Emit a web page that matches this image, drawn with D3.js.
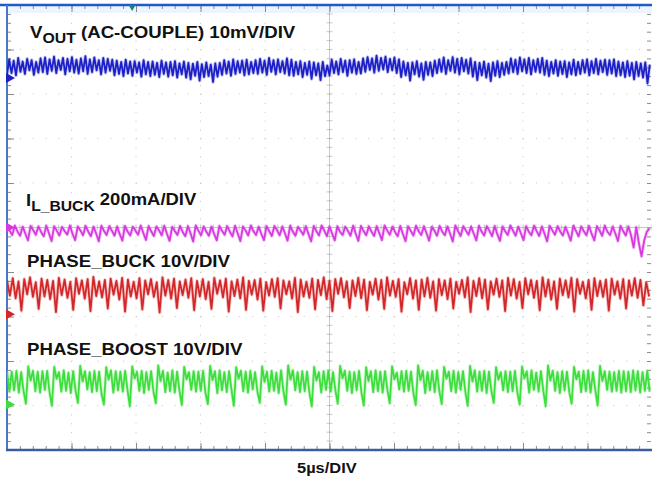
<!DOCTYPE html>
<html>
<head>
<meta charset="utf-8">
<script src="https://cdn.jsdelivr.net/npm/d3@7"></script>
<style>
	body { margin: 0; background: #fff; }
	svg { display: block; }
	text { font-family: Arial, "Liberation Sans", sans-serif; font-weight: bold; fill: #111; }
</style>
</head>
<body>
<svg id="scope" width="652" height="480"></svg>
<script>
// scope settings
var usPerDiv = 5;
var divsX = 10;
var divsY = 10;
var triggerUs = 9.7;

// VOUT, AC coupled, mV above its ground marker
var voutMv = [
	0.8,4.2,1.1,3.9,0.6,4.5,1.4,3.7,0.9,4.3,1.7,4.0,0.7,3.6,1.2,4.4,
	1.3,4.6,0.9,4.2,1.6,4.8,1.1,4.0,1.8,4.5,0.8,4.3,1.5,4.7,1.2,4.1,
	1.0,4.4,1.5,4.9,0.9,4.2,1.3,4.6,1.7,4.0,0.8,4.5,1.2,4.3,1.6,4.1,
	0.6,3.9,0.9,3.6,0.4,4.1,1.0,3.7,0.5,3.8,1.2,3.5,0.3,4.0,0.8,3.6,
	0.4,3.7,0.7,3.4,0.2,3.9,0.9,3.5,0.3,3.6,0.6,3.8,0.1,3.3,0.8,3.7,
	0.1,3.4,-0.3,3.2,0.5,3.6,-0.6,3.1,0.2,3.5,0.4,3.0,-0.9,3.3,0.3,3.4,
	0.7,4.0,1.0,3.7,0.5,4.2,0.9,3.8,1.2,3.9,0.6,4.1,0.8,3.6,1.1,4.0,
	0.9,4.3,1.2,3.9,0.7,4.5,1.4,4.0,0.8,4.2,1.3,3.8,1.0,4.4,0.6,4.1,
	0.5,3.6,0.8,3.8,0.2,3.4,0.7,3.7,-0.2,3.5,0.6,3.3,-0.5,3.6,0.4,2.8,
	0.6,4.1,1.1,3.7,0.8,4.3,1.3,3.9,0.5,4.0,1.2,4.2,0.9,3.6,1.0,4.4,
	1.4,4.7,1.8,4.4,1.2,5.0,1.6,4.5,1.9,4.8,1.3,4.3,1.7,4.6,1.1,4.2,
	0.2,3.7,0.6,3.4,-0.6,3.5,0.8,3.8,0.3,3.3,-0.4,3.6,0.7,3.5,0.4,3.9,
	1.1,4.2,1.4,4.6,0.9,4.0,1.6,4.7,1.2,4.3,0.8,4.5,1.5,4.1,1.0,4.4,
	0.3,3.6,-0.5,3.4,0.6,3.7,0.1,3.2,-0.7,3.5,0.5,3.8,0.2,3.4,0.7,3.6,
	1.0,4.4,1.3,4.1,0.9,4.6,1.5,4.2,1.1,4.5,0.8,4.0,1.4,4.3,1.2,4.5,
	0.7,3.9,0.4,3.6,1.0,4.0,0.5,3.7,0.9,3.8,0.2,3.5,0.8,4.1,0.6,3.6,
	0.9,4.0,1.2,4.2,0.6,3.8,1.1,4.3,0.8,3.9,1.3,4.1,0.7,4.0,1.0,4.2,
	0.4,3.7,0.6,3.5,0.2,3.8,0.5,3.4,-0.3,3.6,0.4,3.3,0.1,3.5,-1.2,3.0
];

// IL_BUCK, mA
var ilBuckMa = [
	6,-14,-34, 9,-18,-37, 4,-28,-58, 7,-12,-33, 5,-20,-40, 8,-26,-61, 6,-15,-36, 3,-17,-32,
	9,-29,-57, 5,-13,-35, 7,-19,-39, 4,-27,-62, 8,-16,-34, 6,-14,-37, 5,-30,-59, 7,-18,-36,
	4,-15,-33, 9,-25,-56, 6,-17,-38, 5,-13,-35, 8,-28,-60, 3,-16,-34, 7,-20,-39, 6,-26,-63,
	9,-14,-35, 5,-18,-37, 4,-29,-58, 7,-15,-33, 6,-19,-40, 8,-27,-61, 5,-14,-36, 9,-17,-34,
	4,-28,-57, 6,-16,-38, 7,-13,-35, 5,-26,-59, 8,-18,-37, 3,-15,-33, 6,-30,-62, 7,-17,-36,
	9,-14,-39, 5,-27,-58, 6,-19,-34, 4,-15,-37, 8,-28,-60, 7,-16,-35, 5,-18,-38, 6,-25,-57,
	9,-13,-33, 4,-20,-40, 7,-29,-61, 5,-15,-36, 8,-17,-34, 6,-26,-59, 3,-14,-37, 7,-19,-35,
	5,-28,-63, 9,-16,-38, 6,-13,-33, 4,-27,-58, 8,-18,-36, 6,-15,-39, 7,-30,-60, 5,-17,-34,
	9,-14,-37, 4,-26,-57, 6,-19,-35, 8,-16,-38, 5,-28,-62, 7,-13,-33, 6,-18,-36, 3,-27,-59,
	8,-15,-40, 5,-17,-35, 7,-29,-58, 6,-14,-37, 9,-19,-34, 4,-26,-61, 7,-16,-36, 5,-35,-90,
	2,-70,-130, -60,-20,-5
];

// PHASE_BUCK, V
var phaseBuckV = [
	7.6,4.2,8.1,3.6,7.4,0.8,7.9,4.5,8.3,3.9,7.2,1.2,8.0,4.0,7.7,3.4,
	7.5,0.5,8.2,4.3,7.8,3.7,7.3,1.0,8.1,4.6,7.6,3.5,7.9,0.7,8.4,4.1,
	7.4,3.8,7.7,1.3,8.0,4.4,7.5,3.3,8.2,0.6,7.8,4.0,7.3,3.6,8.1,1.1,
	7.6,4.5,7.9,3.9,7.2,0.4,8.3,4.2,7.7,3.5,8.0,1.4,7.4,4.3,7.8,3.7,
	8.1,0.9,7.5,4.0,7.9,3.4,7.3,1.2,8.2,4.6,7.6,3.8,8.0,0.6,7.4,4.1,
	7.8,3.6,8.3,1.0,7.5,4.4,7.7,3.3,8.0,0.8,7.2,4.2,7.9,3.9,8.1,1.3,
	7.6,4.5,7.4,3.5,8.2,0.5,7.8,4.0,7.3,3.7,8.0,1.1,7.7,4.3,8.3,3.4,
	7.5,0.7,7.9,4.6,8.1,3.8,7.4,1.4,7.6,4.1,8.2,3.6,7.8,0.9,7.3,4.4,
	8.0,3.3,7.7,1.2,8.3,4.2,7.5,3.9,7.9,0.6,7.2,4.5,8.1,3.5,7.6,1.0,
	7.8,4.0,8.2,3.7,7.4,0.8,7.9,4.3,7.6,3.4,8.0,1.3,7.3,4.6,7.7,3.8,
	8.3,0.5,7.5,4.1,8.1,3.6,7.8,1.1,7.4,4.4,8.0,3.9,7.6,0.7,8.2,4.2,
	7.9,3.5,7.3,1.4,8.1,4.5,7.7,3.7,7.5,0.9,8.3,4.0,7.8,3.3,7.4,1.2,
	8.0,4.3,7.6,3.8,8.2,0.6,7.9,4.6,7.3,3.6,7.7,1.0,8.1,4.1,7.5,3.9,
	7.8,0.8,8.0,4.4,7.4,3.5,7.9,1.3,7.6,4.2,8.1,3.7,7.7,2.0,7.2,4.0
];

// PHASE_BOOST, V
var phaseBoostV = [
	7.5,2.9,7.4,3.2,7.6,2.7,7.3,3.1,
	0.2,8.6,5.4,7.6,3.0,7.4,2.7,7.5,3.3,7.6,2.8,
	-0.3,8.5,5.8,7.3,2.9,7.7,3.1,7.2,2.6,7.5,3.2,
	0.4,8.7,5.2,7.5,3.4,7.3,2.8,7.6,3.0,7.4,2.5,
	0.0,8.4,5.6,7.7,2.7,7.5,3.2,7.4,2.9,7.6,3.3,
	-0.4,8.6,5.9,7.4,3.1,7.6,2.6,7.3,3.3,7.5,2.9,
	0.3,8.8,5.3,7.6,2.8,7.2,3.0,7.7,2.7,7.4,3.1,
	-0.1,8.5,5.7,7.3,3.3,7.5,2.9,7.4,3.1,7.6,2.6,
	0.1,8.7,5.5,7.5,2.6,7.7,3.2,7.3,2.8,7.5,3.4,
	-0.3,8.4,5.8,7.6,3.0,7.4,2.7,7.6,3.4,7.3,2.9,
	0.4,8.6,5.1,7.4,2.9,7.6,3.1,7.2,2.6,7.7,3.0,
	0.0,8.8,5.6,7.7,3.2,7.3,2.8,7.5,3.0,7.4,2.7,
	-0.4,8.5,5.4,7.3,2.7,7.5,3.3,7.6,2.9,7.3,3.2,
	0.2,8.7,5.9,7.6,3.1,7.4,2.6,7.3,3.2,7.6,2.8,
	-0.2,8.4,5.3,7.5,2.8,7.7,3.0,7.4,2.7,7.5,3.3,
	0.3,8.6,5.7,7.2,3.4,7.5,2.9,7.6,3.1,7.4,2.6,
	-0.1,8.8,5.5,7.6,2.6,7.3,3.2,7.5,2.8,7.7,3.0,
	0.1,8.5,5.8,7.4,3.0,7.6,2.7,7.3,3.3,7.5,2.9,
	-0.3,8.7,5.2,7.7,2.9,7.4,3.1,7.6,2.6,7.4,3.2,
	0.4,8.4,5.6,7.3,3.2,7.5,2.8,7.4,3.0,7.6,2.7,
	0.0,8.6,5.9,7.5,2.7,7.7,3.3,7.2,2.9,7.5,3.1,
	-0.4,8.8,5.4,7.6,3.1,7.3,2.6,7.5,3.2,7.4,2.8,
	0.2,8.5,5.7,7.4,2.8,7.6,3.0,7.7,2.7,7.3,3.3,
	-0.2,8.7,5.3,7.5,3.3,7.4,2.9,7.3,3.1,7.6,2.7,
	7.5,3.0,7.4,2.8,7.7,3.2,7.5,2.7,7.3,3.1,7.6,2.9
];

var svg = d3.select("#scope");
var x = d3.scaleLinear().domain([0, usPerDiv * divsX]).range([7, 652]);
var y = d3.scaleLinear().domain([0, divsY]).range([450, 5]);

// light band under top border
svg.append("rect").attr("x", 7).attr("y", 5).attr("width", 645).attr("height", 8).attr("fill", "#eef4ff");

// dotted graticule
var gridG = svg.append("g").attr("stroke", "#c6c6c6").attr("stroke-width", 1);
d3.range(1, divsX).forEach(function (k) {
	gridG.append("line")
		.attr("x1", x(k * usPerDiv)).attr("x2", x(k * usPerDiv))
		.attr("y1", y(divsY)).attr("y2", y(0))
		.attr("stroke-dasharray", "1," + ((y(0) - y(divsY)) / 50 - 1));
});
d3.range(1, divsY).forEach(function (k) {
	gridG.append("line")
		.attr("x1", x(0)).attr("x2", x(usPerDiv * divsX))
		.attr("y1", y(k)).attr("y2", y(k))
		.attr("stroke-dasharray", "1," + ((x(usPerDiv) - x(0)) / 5 - 1));
});

// centre cross with minor ticks
var minorX = d3.range(0, usPerDiv * divsX + 0.01, usPerDiv / 5);
var minorY = d3.range(0, divsY + 0.01, 0.2);
var cx = x(usPerDiv * divsX / 2), cy = y(divsY / 2);
var crossG = svg.append("g").attr("stroke", "#b0b0b0").attr("stroke-width", 0.7);
crossG.append("line").attr("x1", cx).attr("x2", cx).attr("y1", y(divsY)).attr("y2", y(0));
crossG.append("line").attr("x1", x(0)).attr("x2", x(usPerDiv * divsX)).attr("y1", cy).attr("y2", cy);
minorY.forEach(function (v) {
	crossG.append("line").attr("x1", cx - 3).attr("x2", cx + 3).attr("y1", y(v)).attr("y2", y(v));
});
minorX.forEach(function (v) {
	crossG.append("line").attr("x1", x(v)).attr("x2", x(v)).attr("y1", cy - 3).attr("y2", cy + 3);
});

// border ticks through d3 axes
function tickAxis (axis, tx, ty) {
	var g = svg.append("g").attr("transform", "translate(" + tx + "," + ty + ")").call(axis);
	g.select(".domain").remove();
	g.selectAll("line").attr("stroke", "#8a8a8a");
}
var majorX = d3.range(0, usPerDiv * divsX + 0.01, usPerDiv);
var majorY = d3.range(0, divsY + 0.01, 1);
tickAxis(d3.axisBottom(x).tickValues(minorX).tickSize(4).tickFormat(""), 0, y(divsY));
tickAxis(d3.axisBottom(x).tickValues(majorX).tickSize(7).tickFormat(""), 0, y(divsY));
tickAxis(d3.axisTop(x).tickValues(minorX).tickSize(4).tickFormat(""), 0, y(0));
tickAxis(d3.axisTop(x).tickValues(majorX).tickSize(7).tickFormat(""), 0, y(0));
tickAxis(d3.axisRight(y).tickValues(minorY).tickSize(4).tickFormat(""), x(0), 0);
tickAxis(d3.axisRight(y).tickValues(majorY).tickSize(7).tickFormat(""), x(0), 0);
tickAxis(d3.axisLeft(y).tickValues(minorY).tickSize(4).tickFormat(""), 651, 0);

// borders
svg.append("line").attr("x1", 0).attr("x2", 652).attr("y1", y(divsY)).attr("y2", y(divsY))
	.attr("stroke", "#1b5cc9").attr("stroke-width", 2.5);
svg.append("line").attr("x1", x(0)).attr("x2", x(0)).attr("y1", y(divsY)).attr("y2", y(0))
	.attr("stroke", "#4a78c8").attr("stroke-width", 2);
svg.append("line").attr("x1", x(0) - 1).attr("x2", 652).attr("y1", y(0)).attr("y2", y(0))
	.attr("stroke", "#3a5c9c").attr("stroke-width", 2.5);

// traces
var traces = [
	{ values: voutMv, ref: 8.36, perDiv: 10, color: "#1d20c6" },
	{ values: ilBuckMa, ref: 5.0, perDiv: 200, color: "#d63ae0" },
	{ values: phaseBuckV, ref: 3.05, perDiv: 10, color: "#d3282a" },
	{ values: phaseBoostV, ref: 1.02, perDiv: 10, color: "#3ede3e" }
];

svg.append("clipPath").attr("id", "plotClip").append("rect")
	.attr("x", x(0)).attr("y", y(divsY)).attr("width", 652 - x(0)).attr("height", y(0) - y(divsY));
var traceG = svg.append("g").attr("clip-path", "url(#plotClip)");

traces.forEach(function (t) {
	var step = usPerDiv * divsX / t.values.length;
	var line = d3.line()
		.x(function (d, i) { return x(i * step); })
		.y(function (d) { return y(t.ref + d / t.perDiv); });
	traceG.append("path").attr("d", line(t.values)).attr("fill", "none")
		.attr("stroke", t.color).attr("stroke-width", 3.6).attr("stroke-opacity", 0.25)
		.attr("stroke-linejoin", "round");
	traceG.append("path").attr("d", line(t.values)).attr("fill", "none")
		.attr("stroke", t.color).attr("stroke-width", 1.8)
		.attr("stroke-linejoin", "round");
	// ground marker on the left edge
	var my = y(t.ref);
	svg.append("path")
		.attr("d", "M" + (x(0) - 1) + "," + (my - 5) + "L" + (x(0) + 8) + "," + my + "L" + (x(0) - 1) + "," + (my + 5) + "Z")
		.attr("fill", t.color);
});

// trigger marker
var tx = x(triggerUs);
svg.append("path")
	.attr("d", "M" + (tx - 3.5) + "," + y(divsY) + "L" + (tx + 3.5) + "," + y(divsY) + "L" + tx + "," + (y(divsY) + 6) + "Z")
	.attr("fill", "#1f7f72");

// labels
function label (px, py, sx) {
	return svg.append("text").attr("transform", "translate(" + px + "," + py + ") scale(" + sx + ",1)")
		.style("font-size", "16.5px");
}
var t1 = label(30, 38, 1.13);
t1.append("tspan").text("V");
t1.append("tspan").attr("dy", 5).style("font-size", "14px").text("OUT");
t1.append("tspan").attr("dy", -5).text(" (AC-COUPLE) 10mV/DIV");

var t2 = label(26, 206, 1.12);
t2.append("tspan").text("I");
t2.append("tspan").attr("dy", 5).style("font-size", "14px").text("L_BUCK");
t2.append("tspan").attr("dy", -6).text(" 200mA/DIV");

label(27, 267, 1.13).text("PHASE_BUCK 10V/DIV");
label(27, 355, 1.13).text("PHASE_BOOST 10V/DIV");
label(297, 473, 1.06).style("font-size", "15.5px").text("5\u00b5s/DIV");
</script>
</body>
</html>
